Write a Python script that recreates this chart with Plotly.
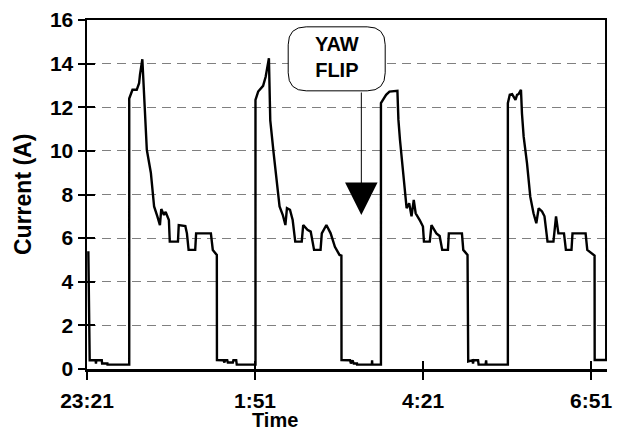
import plotly.graph_objects as go

# minutes elapsed since 23:21
minutes = [
    1.2, 2.4, 7.7, 8.0, 8.3, 13.2, 13.5, 18.2, 18.3, 37.7,
    37.7, 40.6, 44.4, 46.5, 47.3, 49.4, 51.7, 53.4, 57.0, 59.9, 62.8, 65.1, 66.3, 68.7, 70.2,
    73.1, 73.9, 81.2, 81.9, 87.8, 89.2, 90.7, 96.6, 97.4, 110.6, 112.3, 115.9, 116.0,
    121.8, 122.7, 123.2, 125.2, 125.7, 130.2, 130.7, 133.2, 133.7, 150.4,
    150.4, 152.8, 157.2, 159.5, 162.4, 163.6, 166.6, 170.4, 171.9, 174.8, 177.1, 178.5, 181.2,
    183.6, 185.9, 191.7, 193.0, 196.8, 199.7, 202.7, 208.5, 209.6, 213.7, 217.5, 221.3, 225.4,
    227.1, 227.2,
    234.8, 235.6, 237.1, 238.1, 241.0, 241.1, 254.3, 254.5, 254.7, 262.4,
    262.4, 267.0, 270.0, 277.1, 278.0, 279.4, 281.7, 283.8, 285.3, 287.6, 289.7, 291.7, 293.4,
    297.0, 299.9, 300.8, 306.0, 307.5, 311.9, 314.8, 317.1, 322.2, 323.0, 334.7, 335.9, 339.7,
    340.3,
    344.1, 344.6, 345.1, 349.1, 349.6, 355.8, 356.3, 356.6, 375.7,
    375.7, 377.4, 379.5, 382.5, 383.9, 385.3, 387.4, 388.3, 389.8, 392.8, 395.7, 398.6, 401.1,
    403.2, 406.2, 408.4, 411.1, 416.4, 418.7, 420.8, 425.8, 427.5, 432.5, 433.4, 445.1, 446.6,
    451.6, 453.1, 453.2, 463.5, 463.5,
]
current = [
    5.4, 0.4, 0.4, 0.25, 0.4, 0.4, 0.25, 0.25, 0.2, 0.2,
    12.4, 12.8, 12.8, 13.1, 13.5, 14.2, 11.6, 10.05, 9.0, 7.45, 7.0, 6.6, 7.33, 7.06, 7.2,
    6.83, 5.84, 5.84, 6.6, 6.55, 6.22, 5.46, 5.46, 6.22, 6.22, 5.46, 5.23, 0.41,
    0.4, 0.3, 0.4, 0.4, 0.3, 0.3, 0.4, 0.4, 0.2, 0.2,
    12.34, 12.72, 12.98, 13.4, 14.25, 11.4, 9.9, 8.2, 7.45, 7.06, 6.6, 7.37, 7.3,
    6.83, 5.84, 5.84, 6.6, 6.38, 6.3, 5.46, 5.46, 6.22, 6.6, 6.22, 5.6, 5.23,
    5.2, 0.41,
    0.4, 0.25, 0.4, 0.25, 0.25, 0.2, 0.2, 0.4, 0.2, 0.2,
    12.19, 12.57, 12.72, 12.75, 11.42, 10.5, 9.13, 7.9, 7.37, 7.6, 7.0, 7.75, 7.14,
    6.83, 6.53, 5.84, 5.84, 6.6, 6.22, 6.1, 5.46, 5.46, 6.22, 6.22, 5.46, 5.23,
    0.35,
    0.4, 0.25, 0.4, 0.4, 0.2, 0.2, 0.4, 0.2, 0.2,
    12.19, 12.57, 12.6, 12.34, 12.57, 12.6, 12.8, 11.7, 10.65, 9.43, 7.9, 7.14, 6.68,
    7.37, 7.22, 7.0, 5.84, 5.84, 7.0, 6.22, 6.22, 5.46, 5.46, 6.22, 6.22, 5.46,
    5.23, 5.2, 0.41, 0.41, 16.0,
]

tick_minutes = [0, 150, 300, 450]
tick_labels = ["23:21", "1:51", "4:21", "6:51"]
y_ticks = [0, 2, 4, 6, 8, 10, 12, 14, 16]

x_range = [0, 464.2]
y_range = [0, 16]

FONT = "Liberation Sans"

fig = go.Figure()
fig.add_trace(go.Scatter(x=minutes, y=current, mode="lines",
                         line=dict(color="black", width=2.4), showlegend=False,
                         hoverinfo="skip"))
# dummy trace so the overlay axes (inner half of crossing ticks) are drawn
fig.add_trace(go.Scatter(x=[None], y=[None], xaxis="x2", yaxis="y2",
                         showlegend=False, hoverinfo="skip"))

fig.update_layout(
    width=618, height=430,
    margin=dict(l=87, r=6, t=20, b=61),
    paper_bgcolor="white", plot_bgcolor="white",
    font=dict(family=FONT, color="black"),
    xaxis=dict(range=x_range, tickmode="array", tickvals=tick_minutes, ticktext=tick_labels,
               ticks="outside", ticklen=8, tickwidth=2, tickcolor="black",
               showline=True, linecolor="black", linewidth=2.5, mirror=True,
               showgrid=False, zeroline=False,
               tickfont=dict(family=FONT, size=21, weight="bold", color="black"),
               ticklabelstandoff=3),
    yaxis=dict(range=y_range, tickmode="array", tickvals=y_ticks,
               ticks="outside", ticklen=7, tickwidth=2, tickcolor="black",
               showline=True, linecolor="black", linewidth=2.5,
               showgrid=True, gridcolor="#808080", gridwidth=1, griddash="9px,6px",
               zeroline=False,
               tickfont=dict(family=FONT, size=21, weight="bold", color="black")),
    xaxis2=dict(range=x_range, overlaying="x", anchor="y2", side="bottom",
                tickmode="array", tickvals=tick_minutes, ticks="inside", ticklen=8,
                tickwidth=2, tickcolor="black", showticklabels=False,
                showgrid=False, zeroline=False, showline=False),
    yaxis2=dict(range=y_range, overlaying="y", anchor="x2", side="left",
                tickmode="array", tickvals=y_ticks, ticks="inside", ticklen=8,
                tickwidth=2, tickcolor="black", showticklabels=False,
                showgrid=False, zeroline=False, showline=False),
)

# axis titles
fig.add_annotation(text="<b>Time</b>", xref="paper", yref="paper", x=0.362, y=0,
                   yshift=-51, showarrow=False, xanchor="center", yanchor="middle",
                   font=dict(family=FONT, size=20, color="black"))
fig.add_annotation(text="<b>Current (A)</b>", xref="paper", yref="paper", x=-0.124, y=0.5,
                   textangle=-90, showarrow=False, xanchor="center", yanchor="middle",
                   font=dict(family=FONT, size=23, color="black"))

# YAW FLIP callout: rounded box, text, arrow
box_x, box_y = 222.9, 14.22
r = 18
hw, hh = 48.5, 32
path = (f"M {-hw + r},{-hh} L {hw - r},{-hh} Q {hw},{-hh} {hw},{-hh + r} "
        f"L {hw},{hh - r} Q {hw},{hh} {hw - r},{hh} L {-hw + r},{hh} "
        f"Q {-hw},{hh} {-hw},{hh - r} L {-hw},{-hh + r} Q {-hw},{-hh} {-hw + r},{-hh} Z")
fig.add_shape(type="path", xref="x", yref="y", xsizemode="pixel", ysizemode="pixel",
              xanchor=box_x, yanchor=box_y, path=path,
              line=dict(color="black", width=1), fillcolor="white", layer="above")
fig.add_annotation(text="<b>YAW<br>FLIP</b>", x=box_x, y=box_y, xref="x", yref="y",
                   yshift=1.5, showarrow=False,
                   font=dict(family=FONT, size=20, color="black"))
fig.add_annotation(text="", x=244.9, y=7.06, xref="x", yref="y",
                   showarrow=True, ax=0, ay=-124, axref="pixel", ayref="pixel",
                   arrowhead=2, arrowsize=6.5, arrowwidth=1, arrowcolor="black",
                   standoff=0)

fig.write_html("out.html", config={"displayModeBar": False, "staticPlot": True})

# remove the browser's default page margin so the figure sits at the window's corner
with open("out.html", "r", encoding="utf-8") as f:
    html = f.read()
html = html.replace("<head>", "<head><style>html,body{margin:0;padding:0;}</style>", 1)
with open("out.html", "w", encoding="utf-8") as f:
    f.write(html)
